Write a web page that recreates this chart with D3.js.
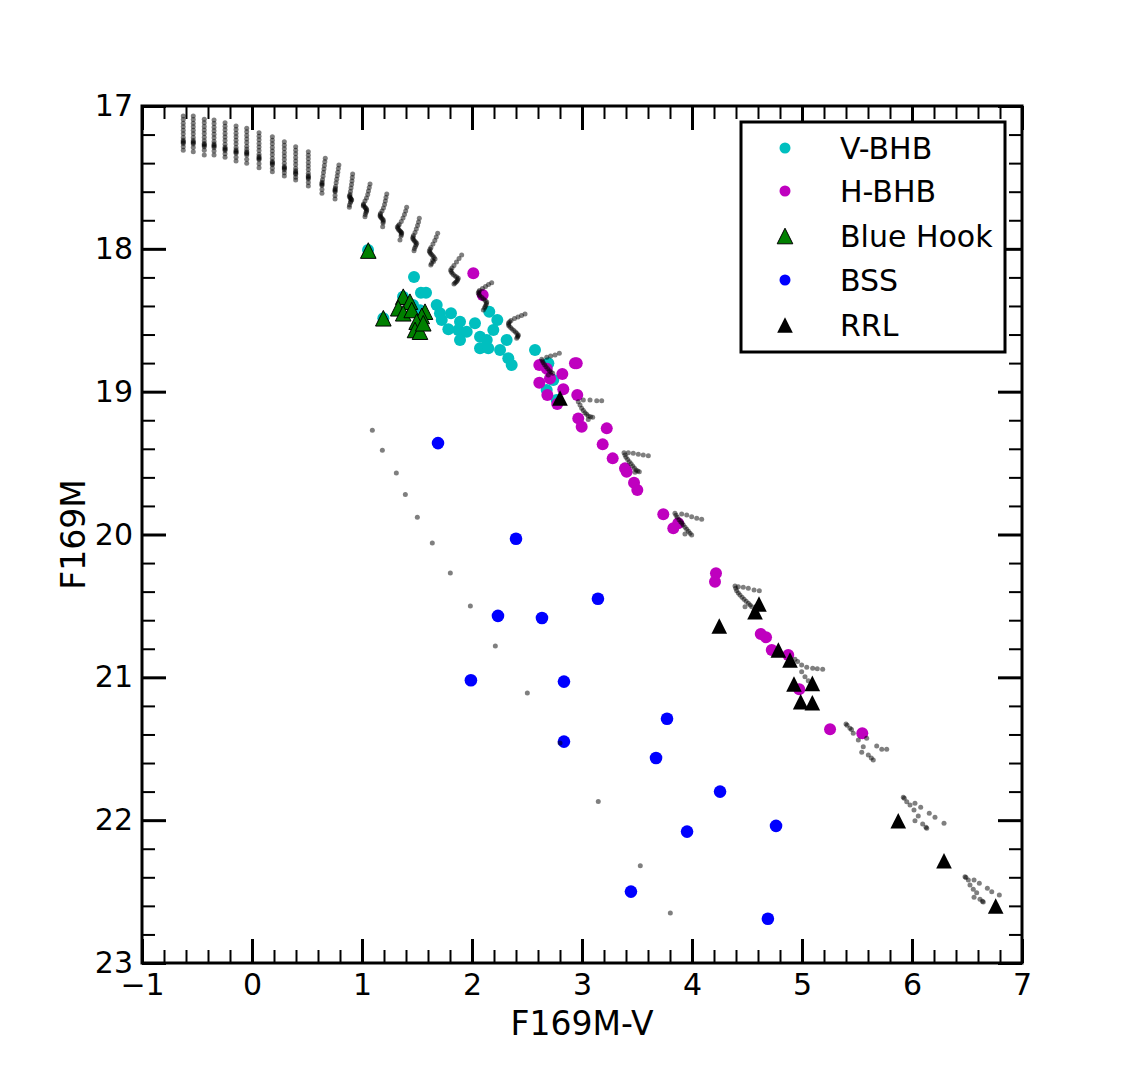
<!DOCTYPE html>
<html>
<head>
<meta charset="utf-8">
<script src="https://cdnjs.cloudflare.com/ajax/libs/d3/7.8.5/d3.min.js"></script>
<style>
    body { margin: 0; background: #fff; }
    text { font-family: "DejaVu Sans", sans-serif; }
</style>
</head>
<body>
<div id="chart-area"></div>
<script>
/*
    F169M vs F169M-V colour-magnitude diagram
 */

// ---- data ----
var xTicks = [-1, 0, 1, 2, 3, 4, 5, 6, 7];
var xTickLabels = ["\u22121", "0", "1", "2", "3", "4", "5", "6", "7"];
var yTicks = [17, 18, 19, 20, 21, 22, 23];
var yTickLabels = ["17", "18", "19", "20", "21", "22", "23"];
var legendLabels = ["V-BHB", "H-BHB", "Blue Hook", "BSS", "RRL"];

var vbhb = [[1.473,18.197],[1.536,18.307],[1.582,18.307],[1.679,18.393],[1.709,18.451],[1.809,18.451],
    [1.725,18.498],[1.891,18.510],[1.785,18.563],[1.875,18.568],[1.952,18.580],[2.027,18.521],
    [1.891,18.638],[2.073,18.615],[2.134,18.638],[2.230,18.498],[2.194,18.568],[2.073,18.696],
    [2.148,18.696],[2.255,18.708],[2.315,18.638],[2.157,18.440],[2.330,18.766],[2.361,18.813],
    [2.573,18.708],[2.694,18.801],[2.739,18.918],[2.679,18.988],[2.770,19.058],[1.055,18.008],
    [1.194,18.486],[1.373,18.335],[1.464,18.393],[1.527,18.430]];

var hbhb = [[2.012,18.171],[2.097,18.323],[2.612,18.813],[2.936,18.801],[2.952,18.801],[2.821,18.876],
    [2.612,18.937],[2.830,18.983],[2.685,19.023],[2.775,19.086],[2.957,19.023],[2.709,18.907],
    [2.680,18.840],[2.966,19.187],[2.997,19.245],[3.225,19.257],[3.188,19.369],[3.279,19.467],
    [3.391,19.537],[3.406,19.560],[3.473,19.637],[3.503,19.689],[3.739,19.859],[3.830,19.957],
    [3.875,19.922],[4.218,20.272],[4.209,20.331],[4.625,20.697],[4.673,20.720],[4.725,20.809],
    [4.875,20.844],[4.975,21.084],[5.255,21.364],[5.548,21.392]];

var blueHook = [[1.057,18.012],[1.194,18.486],[1.375,18.335],[1.330,18.416],[1.436,18.370],[1.375,18.451],
    [1.452,18.428],[1.573,18.440],[1.543,18.470],[1.497,18.510],[1.482,18.568],[1.527,18.580],[1.557,18.521]];

var bss = [[1.691,19.36],[2.40,20.03],[2.236,20.57],[2.636,20.585],[3.145,20.45],[1.99,21.02],
    [2.836,21.03],[2.836,21.45],[3.773,21.29],[3.673,21.565],[4.255,21.80],[3.955,22.08],
    [4.764,22.04],[3.445,22.50],[4.69,22.69]];

var rrl = [[2.800,19.044],[4.248,20.641],[4.609,20.487],[4.573,20.541],[4.785,20.809],[4.891,20.879],
    [4.927,21.047],[5.094,21.042],[4.988,21.171],[5.094,21.178],[5.875,22.004],[6.291,22.284],[6.761,22.601]];

// faint single model points
var sparseModel = [[1.094,19.27],[1.185,19.41],[1.312,19.57],[1.394,19.72],[1.503,19.88],[1.639,20.06],
    [1.803,20.27],[1.985,20.50],[2.212,20.78],[2.503,21.11],[2.80,21.46],[3.148,21.87],[3.530,22.32],[3.803,22.65]];

// model tracks, blue end: vertical columns
var trackColumns = [
    { x: -0.625, y: [17.07,17.095,17.12,17.145,17.17,17.195,17.22,17.24,17.248,17.255,17.262,17.285,17.31] },
    { x: -0.534, y: [17.07,17.095,17.12,17.145,17.17,17.195,17.22,17.242,17.252,17.258,17.266,17.29,17.32] },
    { x: -0.434, y: [17.093,17.118,17.143,17.168,17.193,17.218,17.243,17.262,17.27,17.277,17.285,17.31,17.343] },
    { x: -0.345, y: [17.098,17.123,17.148,17.173,17.198,17.223,17.248,17.266,17.275,17.282,17.29,17.315,17.343] },
    { x: -0.245, y: [17.117,17.142,17.167,17.192,17.217,17.242,17.267,17.288,17.297,17.304,17.312,17.335,17.359] },
    { x: -0.145, y: [17.14,17.165,17.19,17.215,17.24,17.265,17.29,17.308,17.316,17.323,17.331,17.358,17.385] },
    { x: -0.048, y: [17.156,17.181,17.206,17.231,17.256,17.281,17.303,17.32,17.328,17.335,17.343,17.372,17.401] },
    { x: 0.064, y: [17.187,17.212,17.237,17.262,17.287,17.312,17.337,17.354,17.362,17.369,17.377,17.405,17.432] },
    { x: 0.185, y: [17.215,17.24,17.265,17.29,17.315,17.34,17.365,17.388,17.396,17.404,17.412,17.436,17.46] },
    { x: 0.294, y: [17.25,17.275,17.3,17.325,17.35,17.375,17.4,17.423,17.431,17.438,17.446,17.468,17.49] },
    { x: 0.397, y: [17.285,17.31,17.335,17.36,17.385,17.41,17.435,17.454,17.462,17.47,17.478,17.498,17.518] },
    { x: 0.512, y: [17.32,17.345,17.37,17.395,17.42,17.445,17.47,17.488,17.496,17.503,17.511,17.535,17.56] }
];

// model tracks, redder: bent tracks as [colour, mag] points
var trackPaths = [
    [[0.666,17.366],[0.662,17.391],[0.658,17.416],[0.654,17.441],[0.65,17.466],[0.646,17.491],[0.641,17.516],[0.637,17.534],[0.636,17.542],[0.636,17.549],[0.636,17.557],[0.636,17.584],[0.636,17.611]],
    [[0.79,17.413],[0.785,17.438],[0.78,17.463],[0.775,17.488],[0.77,17.513],[0.765,17.538],[0.76,17.563],[0.757,17.578],[0.755,17.586],[0.755,17.593],[0.756,17.601],[0.755,17.626],[0.755,17.651]],
    [[0.915,17.476],[0.912,17.501],[0.909,17.525],[0.905,17.550],[0.9,17.574],[0.895,17.599],[0.891,17.620],[0.888,17.628],[0.885,17.635],[0.895,17.642],[0.895,17.648],[0.903,17.653],[0.906,17.658],[0.898,17.667],[0.895,17.676],[0.886,17.693],[0.885,17.709]],
    [[1.073,17.546],[1.066,17.571],[1.059,17.595],[1.052,17.620],[1.041,17.644],[1.027,17.665],[1.014,17.686],[1.013,17.693],[1.012,17.700],[1.027,17.707],[1.03,17.714],[1.04,17.72],[1.043,17.728],[1.04,17.737],[1.036,17.746],[1.03,17.760],[1.027,17.775]],
    [[1.225,17.616],[1.218,17.641],[1.212,17.665],[1.205,17.690],[1.195,17.714],[1.182,17.735],[1.168,17.753],[1.166,17.762],[1.164,17.770],[1.17,17.777],[1.177,17.784],[1.186,17.791],[1.194,17.798],[1.193,17.808],[1.191,17.819],[1.188,17.845]],
    [[1.406,17.709],[1.397,17.735],[1.386,17.760],[1.373,17.784],[1.357,17.809],[1.339,17.830],[1.33,17.838],[1.321,17.847],[1.326,17.856],[1.332,17.865],[1.341,17.872],[1.35,17.879],[1.356,17.884],[1.361,17.889],[1.358,17.9],[1.355,17.910],[1.345,17.938]],
    [[1.521,17.786],[1.514,17.812],[1.505,17.837],[1.494,17.861],[1.482,17.886],[1.468,17.907],[1.464,17.918],[1.461,17.928],[1.469,17.937],[1.477,17.945],[1.487,17.953],[1.497,17.961],[1.492,17.972],[1.486,17.984],[1.477,17.998],[1.473,18.013]],
    [[1.688,17.891],[1.675,17.917],[1.662,17.942],[1.645,17.966],[1.627,17.991],[1.619,18.003],[1.612,18.015],[1.617,18.024],[1.623,18.033],[1.634,18.041],[1.645,18.050],[1.655,18.06],[1.664,18.071],[1.642,18.08],[1.65,18.089],[1.632,18.103],[1.625,18.113]],
    [[1.906,18.043],[1.882,18.068],[1.859,18.092],[1.836,18.117],[1.818,18.134],[1.806,18.148],[1.81,18.158],[1.818,18.169],[1.83,18.18],[1.845,18.19],[1.86,18.198],[1.875,18.206],[1.87,18.215],[1.864,18.225],[1.855,18.232],[1.845,18.239],[1.836,18.246]],
    [[2.179,18.237],[2.15,18.250],[2.123,18.264],[2.095,18.278],[2.068,18.292],[2.062,18.3],[2.057,18.309],[2.065,18.32],[2.073,18.330],[2.09,18.34],[2.105,18.351],[2.12,18.362],[2.134,18.372],[2.131,18.383],[2.127,18.394],[2.12,18.404],[2.114,18.414],[2.103,18.428]],
    [[2.482,18.456],[2.45,18.467],[2.418,18.477],[2.386,18.488],[2.355,18.502],[2.343,18.51],[2.332,18.519],[2.333,18.53],[2.336,18.540],[2.35,18.55],[2.364,18.561],[2.38,18.572],[2.395,18.582],[2.408,18.592],[2.421,18.603],[2.418,18.61],[2.414,18.617],[2.406,18.626]],
    [[2.794,18.731],[2.755,18.743],[2.715,18.750],[2.679,18.759],[2.634,18.773],[2.641,18.785],[2.648,18.797],[2.66,18.811],[2.673,18.825],[2.688,18.839],[2.703,18.853],[2.718,18.862],[2.734,18.871],[2.694,18.883]],
    [[3.179,19.063],[3.134,19.063],[3.073,19.058],[3.012,19.058],[2.966,19.070],[2.982,19.093],[2.997,19.116],[3.012,19.132],[3.027,19.147],[3.042,19.158],[3.057,19.170],[3.077,19.175],[3.097,19.179],[3.057,19.194]],
    [[3.603,19.448],[3.557,19.443],[3.512,19.439],[3.466,19.432],[3.421,19.427],[3.382,19.427],[3.391,19.444],[3.4,19.460],[3.415,19.475],[3.43,19.490],[3.446,19.505],[3.461,19.520],[3.476,19.535],[3.491,19.549],[3.506,19.555],[3.521,19.560],[3.482,19.565]],
    [[4.088,19.894],[4.043,19.887],[3.997,19.875],[3.952,19.864],[3.906,19.857],[3.845,19.852],[3.855,19.866],[3.866,19.880],[3.882,19.896],[3.897,19.911],[3.909,19.922],[3.921,19.934],[3.937,19.949],[3.952,19.964],[3.967,19.978],[3.982,19.992],[3.997,20.004],[3.936,19.997]],
    [[4.612,20.393],[4.564,20.389],[4.512,20.377],[4.466,20.370],[4.421,20.366],[4.391,20.361],[4.398,20.376],[4.406,20.393],[4.421,20.409],[4.436,20.424],[4.455,20.439],[4.473,20.454],[4.492,20.468],[4.512,20.482],[4.528,20.494],[4.543,20.506],[4.482,20.506]],
    [[4.936,20.874],[4.96,20.89],[4.997,20.914],[5.043,20.930],[5.097,20.937],[5.139,20.940],[5.188,20.944],[4.997,20.961],[5.027,20.996],[5.057,21.024]],
    [[5.4,21.327],[5.41,21.335],[5.436,21.357],[5.466,21.392],[5.512,21.439],[5.557,21.486],[5.543,21.525],[5.603,21.544],[5.630,21.565],[5.648,21.579],[5.45,21.365],[5.588,21.427],[5.679,21.481],[5.725,21.504],[5.770,21.504]],
    [[5.921,21.840],[5.93,21.846],[5.952,21.871],[5.982,21.894],[6.018,21.929],[6.057,21.971],[6.027,22.004],[6.097,22.027],[6.134,22.057],[6.127,22.05],[6.027,21.882],[6.079,21.910],[6.157,21.952],[6.209,21.980],[6.291,22.022]],
    [[6.482,22.396],[6.49,22.402],[6.512,22.419],[6.527,22.454],[6.557,22.484],[6.588,22.508],[6.564,22.540],[6.618,22.554],[6.648,22.573],[6.64,22.568],[6.564,22.419],[6.612,22.442],[6.685,22.477],[6.725,22.501],[6.794,22.524]]
];

// ---- layout ----
var margin = { left: 142, right: 113, top: 106, bottom: 107 },
    width = 1135 - margin.left - margin.right,
    height = 1070 - margin.top - margin.bottom;

var svg = d3.select("#chart-area")
    .append("svg")
    .attr("width", 1135)
    .attr("height", 1070);
var g = svg.append("g")
    .attr("transform", "translate(" + margin.left + "," + margin.top + ")");

// Scales
var x = d3.scaleLinear().domain([-1, 7]).range([0, width]);
var y = d3.scaleLinear().domain([17, 23]).range([0, height]);

var xMinor = d3.range(-1, 7.001, 0.2).filter(function(d){ return Math.abs(d - Math.round(d)) > 0.01; });
var yMinor = d3.range(17, 23.001, 0.2).filter(function(d){ return Math.abs(d - Math.round(d)) > 0.01; });

function styleAxis(sel, w) {
    sel.select(".domain").remove();
    sel.selectAll(".tick line").attr("stroke", "#000").attr("stroke-width", w);
    sel.selectAll(".tick text").attr("font-size", "30px").attr("fill", "#000")
        .attr("font-family", "DejaVu Sans, sans-serif");
}

// minor ticks, all four sides
g.append("g").attr("transform", "translate(0," + height + ")")
    .call(d3.axisBottom(x).tickValues(xMinor).tickSize(-13).tickFormat(""))
    .call(styleAxis, 2);
g.append("g")
    .call(d3.axisTop(x).tickValues(xMinor).tickSize(-13).tickFormat(""))
    .call(styleAxis, 2);
g.append("g")
    .call(d3.axisLeft(y).tickValues(yMinor).tickSize(-13).tickFormat(""))
    .call(styleAxis, 2);
g.append("g").attr("transform", "translate(" + width + ",0)")
    .call(d3.axisRight(y).tickValues(yMinor).tickSize(-13).tickFormat(""))
    .call(styleAxis, 2);

// major ticks
g.append("g").attr("class", "x axis").attr("transform", "translate(0," + height + ")")
    .call(d3.axisBottom(x).tickValues(xTicks).tickSize(-24).tickPadding(11)
        .tickFormat(function(d, i){ return xTickLabels[i]; }))
    .call(styleAxis, 3);
g.append("g")
    .call(d3.axisTop(x).tickValues(xTicks).tickSize(-24).tickFormat(""))
    .call(styleAxis, 3);
g.append("g").attr("class", "y axis")
    .call(d3.axisLeft(y).tickValues(yTicks).tickSize(-24).tickPadding(9)
        .tickFormat(function(d, i){ return yTickLabels[i]; }))
    .call(styleAxis, 3);
g.append("g").attr("transform", "translate(" + width + ",0)")
    .call(d3.axisRight(y).tickValues(yTicks).tickSize(-24).tickFormat(""))
    .call(styleAxis, 3);

// marker helpers
var triH = 7.8;
function triPath(h) { return "M0," + (-h) + "L" + h + "," + h + "L" + (-h) + "," + h + "Z"; }

function circles(data, color, r) {
    g.append("g").selectAll("circle").data(data).enter().append("circle")
        .attr("cx", function(d){ return x(d[0]); })
        .attr("cy", function(d){ return y(d[1]); })
        .attr("r", r)
        .attr("fill", color);
}
function triangles(data, color, stroke) {
    g.append("g").selectAll("path").data(data).enter().append("path")
        .attr("d", triPath(triH))
        .attr("transform", function(d){ return "translate(" + x(d[0]) + "," + y(d[1]) + ")"; })
        .attr("fill", color)
        .attr("stroke", stroke)
        .attr("stroke-width", 1);
}

circles(vbhb, "#00bfbf", 6);
circles(hbhb, "#bf00bf", 6);
triangles(blueHook, "#008000", "#000");
circles(bss, "#0000ff", 6.3);
triangles(rrl, "#000", "none");

// model points on top, semi transparent
var modelPts = sparseModel.slice();
trackColumns.forEach(function(c){ c.y.forEach(function(v){ modelPts.push([c.x, v]); }); });
trackPaths.forEach(function(t){ t.forEach(function(p){ modelPts.push(p); }); });

g.append("g").selectAll("circle").data(modelPts).enter().append("circle")
    .attr("cx", function(d){ return x(d[0]); })
    .attr("cy", function(d){ return y(d[1]); })
    .attr("r", 2.5)
    .attr("fill", "#000")
    .attr("fill-opacity", 0.5);

// frame
g.append("rect")
    .attr("width", width).attr("height", height)
    .attr("fill", "none").attr("stroke", "#000").attr("stroke-width", 3);

// Labels
svg.append("text")
    .attr("x", margin.left + width / 2)
    .attr("y", 1035)
    .attr("font-size", "33px")
    .attr("text-anchor", "middle")
    .text("F169M-V");
svg.append("text")
    .attr("transform", "translate(85," + (margin.top + height / 2) + ") rotate(-90)")
    .attr("font-size", "33px")
    .attr("text-anchor", "middle")
    .text("F169M");

// Legend
var legend = svg.append("g").attr("transform", "translate(741,122)");
legend.append("rect")
    .attr("width", 264).attr("height", 230)
    .attr("fill", "#fff").attr("stroke", "#000").attr("stroke-width", 3);
var rowY = [26, 69, 114, 158, 203];
var legendKinds = [
    { shape: "circle", color: "#00bfbf", stroke: "none" },
    { shape: "circle", color: "#bf00bf", stroke: "none" },
    { shape: "tri", color: "#008000", stroke: "#000" },
    { shape: "circle", color: "#0000ff", stroke: "none" },
    { shape: "tri", color: "#000", stroke: "none" }
];
legendLabels.forEach(function(lab, i){
    var k = legendKinds[i];
    var row = legend.append("g").attr("transform", "translate(44," + rowY[i] + ")");
    if (k.shape === "circle") {
        row.append("circle").attr("r", 5.5).attr("fill", k.color);
    } else {
        row.append("path").attr("d", triPath(7.8)).attr("fill", k.color)
            .attr("stroke", k.stroke).attr("stroke-width", 1);
    }
    row.append("text")
        .attr("x", 55)
        .attr("dy", "0.36em")
        .attr("font-size", "30px")
        .text(lab);
});
</script>
</body>
</html>
